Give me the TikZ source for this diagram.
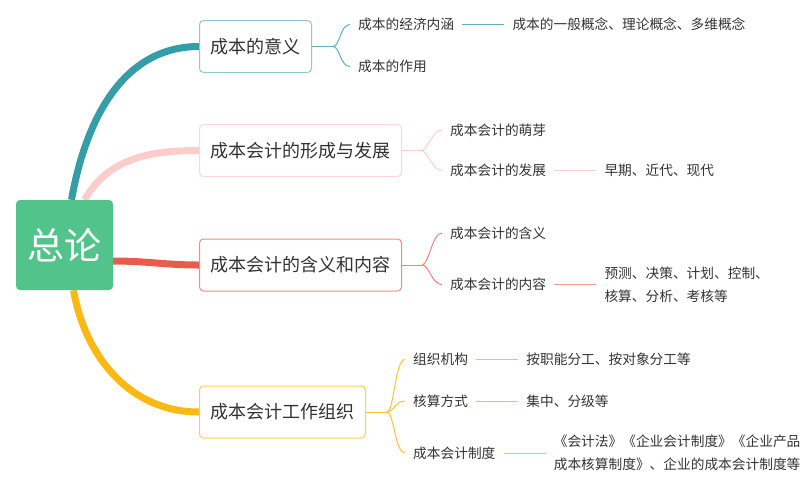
\documentclass[tikz,border=0pt]{standalone}
\usepackage{fontspec}
\setmainfont{Noto Sans CJK SC}
\usepackage{tikz}
\usetikzlibrary{
	positioning,
	backgrounds
}
\definecolor{rootgreen}{RGB}{82,196,139}
\definecolor{tealc}{RGB}{53,157,168}
\definecolor{pinkc}{RGB}{255,204,204}
\definecolor{redc}{RGB}{232,92,78}
\definecolor{yellowc}{RGB}{253,185,19}
\definecolor{textc}{RGB}{51,51,51}

\begin{document}
\begin{tikzpicture}[x=1pt, y=1pt,
    topic/.style={draw=#1, fill=white, rounded corners=4pt, line width=1pt,
        anchor=west, minimum height=52pt, inner xsep=11pt, text=textc,
        font=\fontsize{18}{20}\selectfont},
    sub/.style={anchor=west, inner xsep=8pt, inner ysep=2pt, text=textc,
        font=\fontsize{13.7}{16}\selectfont},
    leaf/.style={sub, align=left, font=\fontsize{13.7}{23}\selectfont},
    trunk/.style={line width=7pt, draw=#1},
    twig/.style={line width=1pt, draw=#1},
    fork/.style={twig=#1, out=0, in=180, out distance=7pt, in distance=10pt}]

\useasboundingbox (0,0) rectangle (811,-483);

% Central topic
\node[fill=rootgreen, rounded corners=4pt, minimum width=97pt, minimum height=90pt,
    text=white, font=\fontsize{37}{38}\selectfont] (root) at (64.5,-245) {总论};

% Main topics
\node[topic=tealc!55] (meaning) at (199,-46.5) {成本的意义};
\node[topic=pinkc!75] (origin) at (199,-150.5) {成本会计的形成与发展};
\node[topic=redc!70] (concept) at (199,-265) {成本会计的含义和内容};
\node[topic=yellowc!70] (organ) at (199,-412) {成本会计工作组织};

% Thick branches (behind the boxes)
\begin{scope}[on background layer]
    \draw[trunk=tealc] ([xshift=7pt]root.north) to[out=80,in=180] (meaning.west);
    \draw[trunk=pinkc] ([xshift=20pt]root.north) to[out=60,in=180] (origin.west);
    \draw[trunk=redc] ([yshift=-16pt]root.east) to[out=0,in=180] (concept.west);
    \draw[trunk=yellowc] ([xshift=9pt]root.south) to[out=-80,in=180] (organ.west);
\end{scope}

% Fork points
\coordinate (j1) at ([xshift=21pt]meaning.east);
\coordinate (j2) at ([xshift=19pt]origin.east);
\coordinate (j3) at ([xshift=20pt]concept.east);
\coordinate (j4) at ([xshift=21pt]organ.east);

% Subtopics
\node[sub] (c11) at (350,-24.5) {成本的经济内涵};
\node[sub] (c12) at (350,-66.5) {成本的作用};
\node[sub] (c21) at (442,-130) {成本会计的萌芽};
\node[sub] (c22) at (442,-170.5) {成本会计的发展};
\node[sub] (c31) at (442,-233) {成本会计的含义};
\node[sub] (c32) at (442,-284.5) {成本会计的内容};
\node[sub] (c41) at (405,-359.5) {组织机构};
\node[sub] (c42) at (405,-401) {核算方式};
\node[sub] (c43) at (405,-453) {成本会计制度};

% Details
\node[leaf, right=42pt of c11] (l11) {成本的一般概念、理论概念、多维概念};
\node[leaf, right=42pt of c22] (l22) {早期、近代、现代};
\node[leaf, right=42pt of c32] (l32) {预测、决策、计划、控制、\\核算、分析、考核等};
\node[leaf, right=42pt of c41] (l41) {按职能分工、按对象分工等};
\node[leaf, right=42pt of c42] (l42) {集中、分级等};
\node[leaf, right=42pt of c43] (l43) {《会计法》《企业会计制度》《企业产品\\成本核算制度》、企业的成本会计制度等};

% Connectors
\draw[twig=tealc!80] (meaning.east) -- (j1);
\draw[fork=tealc!80] (j1) to (c11.west) (j1) to (c12.west);
\draw[twig=tealc!80] (c11.east) -- (l11.west);

\draw[twig=pinkc] (origin.east) -- (j2);
\draw[fork=pinkc] (j2) to (c21.west) (j2) to (c22.west);
\draw[twig=pinkc] (c22.east) -- (l22.west);

\draw[twig=redc!75] (concept.east) -- (j3);
\draw[fork=redc!75] (j3) to (c31.west) (j3) to (c32.west);
\draw[twig=redc!60] (c32.east) -- (l32.west);

\draw[twig=yellowc!85] (organ.east) -- (j4);
\draw[fork=yellowc!85] (j4) to (c41.west) (j4) to (c42.west) (j4) to (c43.west);
\draw[twig=yellowc!85] (c41.east) -- (l41.west);
\draw[twig=yellowc!85] (c42.east) -- (l42.west);
\draw[twig=yellowc!85] (c43.east) -- (l43.west);

\end{tikzpicture}
\end{document}
